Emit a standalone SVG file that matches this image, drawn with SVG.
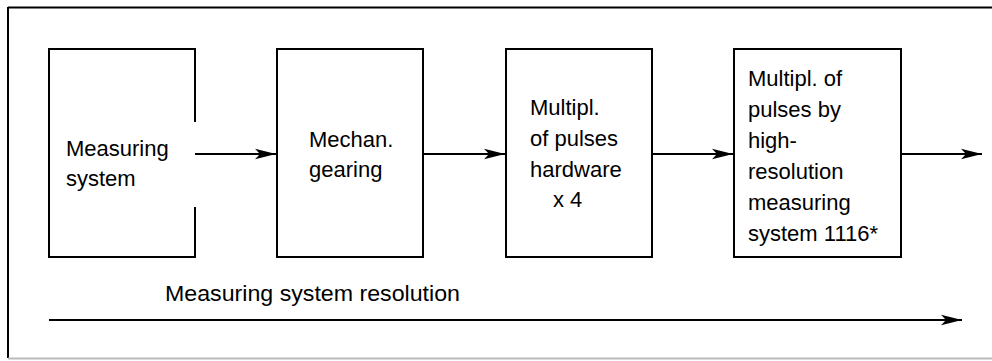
<svg xmlns="http://www.w3.org/2000/svg" width="992" height="361" viewBox="0 0 992 361">
<defs>
<style>
.ln{stroke:#000;stroke-width:2;fill:none}
.bx{stroke:#000;stroke-width:2;fill:none}
text{font-family:"Liberation Sans",Arial,Helvetica,sans-serif;font-size:22px;fill:#000}
</style>
<marker id="ah" markerUnits="userSpaceOnUse" markerWidth="24" markerHeight="12" refX="22" refY="6" orient="auto" viewBox="0 0 24 12">
<path d="M22 6 L1 0.8 L6 6 L1 11.2 Z" fill="#000"/>
</marker>
</defs>
<rect width="992" height="361" fill="#fff"/>
<g id="frame">
<line x1="8" y1="7.5" x2="992" y2="7.5" stroke="#000" stroke-width="2"/>
<line x1="8" y1="7" x2="8" y2="358" stroke="#000" stroke-width="2"/>
<line x1="8" y1="358.5" x2="992" y2="358.5" stroke="#bbb" stroke-width="2"/>
</g>
<g id="n1">
<path class="bx" d="M195 122 V49 H49 V257 H195 V207"/>
<text x="66" y="156">Measuring</text>
<text x="66" y="186">system</text>
</g>
<g id="n2">
<rect class="bx" x="277" y="49" width="146" height="208"/>
<text x="309" y="147">Mechan.</text>
<text x="309" y="177">gearing</text>
</g>
<g id="n3">
<rect class="bx" x="506" y="49" width="146" height="208"/>
<text x="530" y="115">Multipl.</text>
<text x="530" y="146">of pulses</text>
<text x="530" y="177">hardware</text>
<text x="553" y="207">x 4</text>
</g>
<g id="n4">
<rect class="bx" x="734" y="49" width="167" height="208"/>
<text x="748" y="86">Multipl. of</text>
<text x="748" y="117">pulses by</text>
<text x="748" y="148">high-</text>
<text x="748" y="179">resolution</text>
<text x="748" y="210">measuring</text>
<text x="748" y="241">system 1116*</text>
</g>
<g id="label">
<text x="165" y="301" textLength="295" lengthAdjust="spacingAndGlyphs">Measuring system resolution</text>
</g>
<g id="connectors">
<line class="ln" x1="195" y1="154" x2="276" y2="154" marker-end="url(#ah)"/>
<line class="ln" x1="423" y1="154" x2="505" y2="154" marker-end="url(#ah)"/>
<line class="ln" x1="652" y1="154" x2="733" y2="154" marker-end="url(#ah)"/>
<line class="ln" x1="901" y1="154" x2="982" y2="154" marker-end="url(#ah)"/>
<line class="ln" x1="49" y1="320" x2="962" y2="320" marker-end="url(#ah)"/>
</g>
</svg>
